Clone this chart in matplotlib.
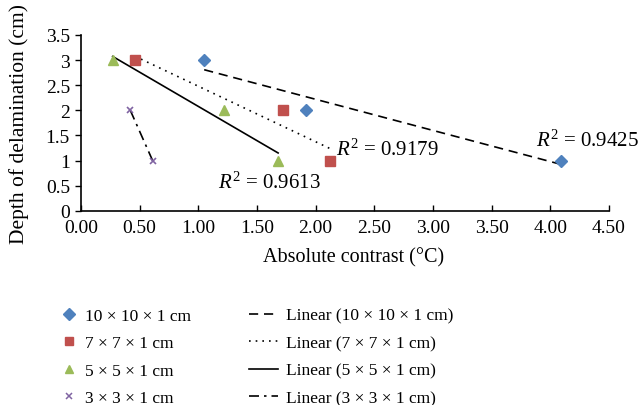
import numpy as np
import matplotlib
matplotlib.use("Agg")
import matplotlib.pyplot as plt
from matplotlib.lines import Line2D

plt.rcParams['font.family'] = ['Liberation Serif', 'DejaVu Serif']
plt.rcParams['mathtext.fontset'] = 'custom'
plt.rcParams['mathtext.rm'] = 'Liberation Serif'
plt.rcParams['mathtext.it'] = 'Liberation Serif:italic'

# Data
series_names = ["10 × 10 × 1 cm", "7 × 7 × 1 cm", "5 × 5 × 1 cm", "3 × 3 × 1 cm"]
x_10 = [1.05, 1.92, 4.09]
y_10 = [3, 2, 1]
x_7 = [0.46, 1.72, 2.12]
y_7 = [3, 2, 1]
x_5 = [0.27, 1.22, 1.68]
y_5 = [3, 2, 1]
x_3 = [0.42, 0.61]
y_3 = [2, 1]
r2_labels = ["0.9425", "0.9179", "0.9613"]
r2_pos = [(3.88, 1.41), (2.17, 1.22), (1.17, 0.57)]
x_ticks = [0, 0.5, 1, 1.5, 2, 2.5, 3, 3.5, 4, 4.5]
y_ticks = [0, 0.5, 1, 1.5, 2, 2.5, 3, 3.5]

colors = ["#4F81BD", "#C0504D", "#9BBB59", "#8064A2"]
markers = ["D", "s", "^", "x"]
msizes = [6, 6.5, 7, 5]
linestyles = [(0, (5.5, 3.5)), (0, (1, 3)), "-", (0, (6, 3, 1.5, 3))]

W, H = 642, 406
fig = plt.figure(figsize=(W / 100, H / 100), dpi=100)
ax = fig.add_axes([81 / W, 1 - 211.7 / H, (609 - 81) / W, (211.7 - 36) / H])

xs = [x_10, x_7, x_5, x_3]
ys = [y_10, y_7, y_5, y_3]
for i in range(4):
    x = np.array(xs[i]); y = np.array(ys[i])
    b, a = np.polyfit(x, y, 1)
    xl = np.array([x.min(), x.max()])
    ax.plot(xl, a + b * xl, color="black", lw=1.2, linestyle=linestyles[i], zorder=2)
for i in range(4):
    if markers[i] == "x":
        ax.plot(xs[i], ys[i], linestyle="none", marker="x", color=colors[i],
                ms=msizes[i], mew=1.2, zorder=3)
    else:
        ax.plot(xs[i], ys[i], linestyle="none", marker=markers[i], color=colors[i],
                ms=msizes[i], mec=colors[i], zorder=3)

for lab, (px, py) in zip(r2_labels, r2_pos):
    ax.text(px, py, r"$R^2$ = " + lab, fontsize=15, va="center", ha="left")

ax.set_xlim(0, 4.5)
ax.set_ylim(0, 3.5)
ax.set_xticks(x_ticks)
ax.set_xticklabels([f"{v:.2f}" for v in x_ticks])
ax.set_yticks(y_ticks)
ax.set_yticklabels([f"{v:g}" for v in y_ticks])
ax.spines["top"].set_visible(False)
ax.spines["right"].set_visible(False)
for s in ["left", "bottom"]:
    ax.spines[s].set_linewidth(1.2)
ax.tick_params(axis="x", direction="in", length=4, width=1.0, labelsize=14, pad=6)
ax.tick_params(axis="y", direction="out", length=4, width=1.0, labelsize=14, pad=4)

fig.text(354 / W, 1 - 258 / H, "Absolute contrast (°C)", fontsize=14.5,
         ha="center", va="center")
fig.text(19 / W, 1 - 124 / H, "Depth of delamination (cm)", fontsize=15.5,
         ha="center", va="center", rotation=90)

# Legends
h1 = []
for i in range(4):
    if markers[i] == "x":
        h1.append(Line2D([], [], linestyle="none", marker="x", color=colors[i], ms=5, mew=1.1))
    else:
        h1.append(Line2D([], [], linestyle="none", marker=markers[i], color=colors[i], ms=6))
leg1 = fig.legend(h1, series_names, loc="upper left",
                  bbox_to_anchor=(62 / W, 1 - 308.5 / H), frameon=False, fontsize=12.5,
                  handlelength=0.85, handletextpad=0.45, labelspacing=0.66,
                  borderpad=0, borderaxespad=0)
h2 = [Line2D([], [], color="black", lw=1.2, linestyle=linestyles[i]) for i in range(4)]
leg2 = fig.legend(h2, ["Linear (" + n + ")" for n in series_names], loc="upper left",
                  bbox_to_anchor=(249 / W, 1 - 308.5 / H), frameon=False, fontsize=12.5,
                  handlelength=1.65, handletextpad=0.5, labelspacing=0.66,
                  borderpad=0, borderaxespad=0)

fig.savefig("out.png", dpi=100)
